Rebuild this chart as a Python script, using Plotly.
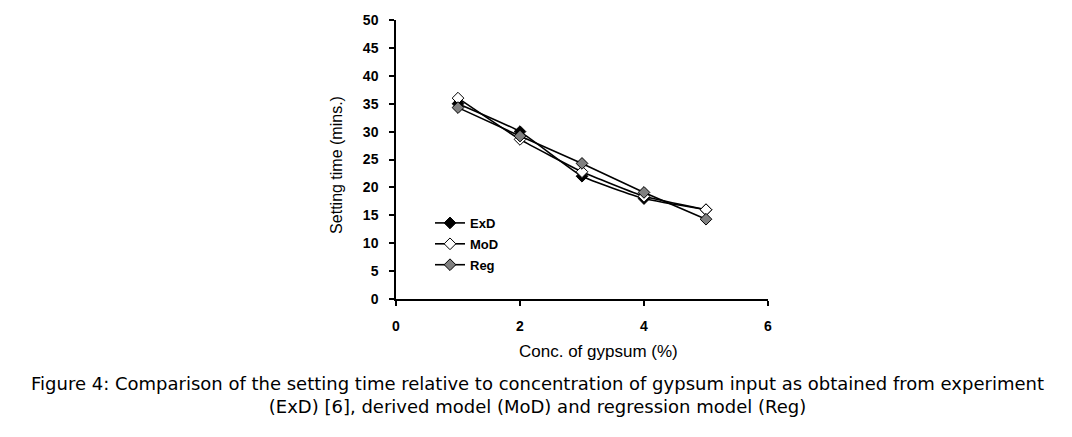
import plotly.graph_objects as go

conc = [1, 2, 3, 4, 5]
exd = [35.0, 30.0, 22.0, 18.0, 16.0]
mod = [36.0, 28.6, 22.8, 18.4, 16.0]
reg = [34.3, 29.2, 24.3, 19.1, 14.3]

series = [
    ("ExD", exd, "black"),
    ("MoD", mod, "white"),
    ("Reg", reg, "#808080"),
]

L, R, T, B = 396, 304, 14, 138
W, H = 1072, 437
pw, ph = W - L - R, H - T - B


def px_x(p):
    return (p - L) / pw


def px_y(p):
    return (H - B - p) / ph


fig = go.Figure()
for name, vals, fill in series:
    fig.add_trace(go.Scatter(
        x=conc, y=vals, name=name, mode="lines+markers", legendgroup=name,
        line=dict(color="black", width=1.6, shape="spline", smoothing=0.4),
        marker=dict(symbol="diamond", size=9, color=fill,
                    line=dict(color="black", width=1)),
    ))

axis_common = dict(showgrid=False, zeroline=False, showline=True,
                   linecolor="black", linewidth=1.5, ticks="outside",
                   ticklen=5, tickcolor="black", tickwidth=1.5,
                   ticklabelstandoff=8,
                   tickfont=dict(size=14, weight="bold",
                                 family="Arial, Liberation Sans, sans-serif"))

fig.update_layout(
    width=W, height=H,
    margin=dict(l=L, r=R, t=T, b=B),
    paper_bgcolor="white", plot_bgcolor="white",
    font=dict(family="Arial, Liberation Sans, sans-serif", color="black"),
    showlegend=True,
    legend=dict(x=px_x(430), y=px_y(206), xanchor="left", yanchor="top",
                bgcolor="rgba(0,0,0,0)",
                font=dict(size=13, weight="bold"),
                tracegroupgap=1),
    xaxis=dict(range=[0, 6], dtick=2, tick0=0, **axis_common),
    yaxis=dict(range=[0, 50], dtick=5, tick0=0, **axis_common),
    annotations=[
        dict(text="Conc. of gypsum (%)", xref="paper", yref="paper",
             x=px_x(598), y=px_y(353), xanchor="center", yanchor="middle",
             showarrow=False, font=dict(size=17)),
        dict(text="Setting time (mins.)", xref="paper", yref="paper",
             x=px_x(337), y=px_y(162), xanchor="center", yanchor="middle",
             textangle=-90, showarrow=False, font=dict(size=16)),
        dict(text="Figure 4: Comparison of the setting time relative to concentration of gypsum input as obtained from experiment<br>(ExD) [6], derived model (MoD) and regression model (Reg)",
             xref="paper", yref="paper", x=px_x(537), y=px_y(397),
             xanchor="center", yanchor="middle", showarrow=False,
             align="center",
             font=dict(size=18, family="DejaVu Sans, sans-serif")),
    ],
)

fig.write_html("out.html")
